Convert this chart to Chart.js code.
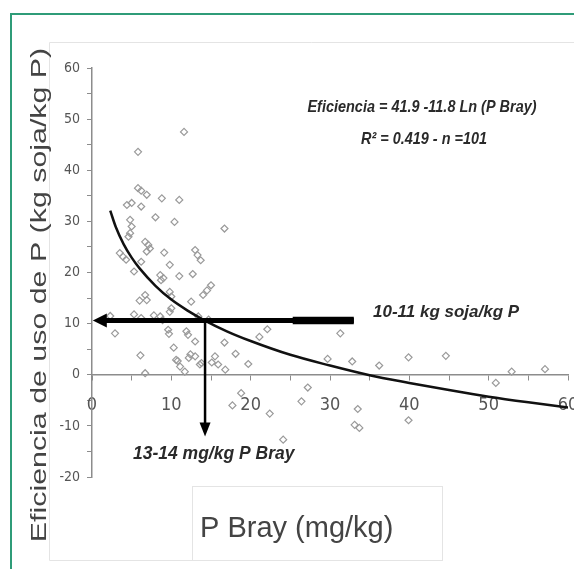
<!DOCTYPE html>
<html>
<head>
<meta charset="utf-8">
<script src="https://cdn.jsdelivr.net/npm/chart.js@4.4.1/dist/chart.umd.min.js"></script>
<style>
  html, body { margin: 0; padding: 0; background: #fff; }
  #wrap { width: 574px; height: 569px; position: relative; }
</style>
</head>
<body>
<div id="wrap"><canvas id="myChart"></canvas></div>
<script>
const xTicks = [0, 10, 20, 30, 40, 50, 60];
const yTicks = [-20, -10, 0, 10, 20, 30, 40, 50, 60];

// P Bray (mg/kg) de cada sitio
const pBray = [
    11.6, 5.8, 5.8, 6.2, 6.9, 4.4, 5.0, 6.2, 8.8, 11.0,
    8.0, 10.4, 16.7, 4.8, 5.0, 4.8, 4.6, 6.7, 7.1, 7.3,
    6.9, 3.5, 3.9, 4.3, 9.1, 13.0, 13.3, 13.7, 6.2, 9.8,
    5.3, 8.6, 9.0, 8.7, 11.0, 12.7, 14.0, 14.5, 15.0, 9.8,
    10.0, 6.7, 6.9, 6.0, 12.5, 10.0, 9.8, 5.3, 2.3, 8.6,
    8.9, 6.2, 2.9, 9.6, 9.7, 11.9, 12.1, 13.0, 16.7, 21.1,
    22.1, 6.1, 6.7, 10.3, 10.8, 11.1, 11.7, 12.2, 12.4, 13.6,
    18.1, 15.5, 15.9, 13.8, 15.1, 16.8, 19.7, 13.0, 18.8, 17.7,
    22.4, 26.4, 27.2, 24.1, 31.3, 29.7, 32.8, 36.2, 39.9, 44.6,
    50.9, 52.9, 57.1, 33.5, 33.1, 33.7, 39.9, 13.4, 10.6, 7.8,
    14.7
];
// eficiencia (kg soja/kg P)
const eficiencia = [
    47.5, 43.6, 36.5, 36.0, 35.2, 33.2, 33.6, 32.9, 34.5, 34.2,
    30.8, 29.9, 28.6, 30.3, 29.0, 27.7, 27.0, 26.0, 25.4, 24.7,
    24.1, 23.8, 23.1, 22.5, 23.9, 24.4, 23.4, 22.4, 22.1, 21.5,
    20.2, 19.5, 18.9, 18.5, 19.3, 19.7, 15.6, 16.5, 17.5, 16.2,
    15.3, 15.6, 14.6, 14.5, 14.3, 13.0, 12.3, 11.8, 11.5, 11.4,
    10.7, 11.1, 8.1, 8.8, 8.0, 8.5, 7.8, 6.5, 6.3, 7.4,
    8.9, 3.8, 0.3, 5.3, 2.7, 1.6, 0.6, 3.3, 4.0, 2.0,
    4.1, 3.6, 2.0, 2.3, 2.4, 1.0, 2.1, 3.6, -3.6, -6.0,
    -7.6, -5.2, -2.5, -12.7, 8.1, 3.1, 2.6, 1.8, 3.4, 3.7,
    -1.6, 0.6, 1.1, -6.7, -9.8, -10.4, -8.9, 11.4, 2.9, 11.6,
    10.8
];

// curva ajustada
const curvaX = [2.3, 3, 4, 5, 6, 8, 10, 12, 14, 17, 20, 25, 30, 35, 40, 45, 50, 55, 60];
const curvaY = [32.1, 28.9, 25.5, 22.9, 20.8, 17.4, 14.7, 12.6, 10.8, 8.5, 6.6, 3.9, 1.8, -0.1, -1.6, -3.0, -4.3, -5.4, -6.4];

// flechas: [x, y] inicio y punta
const flechaH = [[33, 10.6], [0.1, 10.6]];
const flechaV = [[14.25, 10.6], [14.25, -12.1]];

const ecuacion = ['Eficiencia = 41.9 -11.8 Ln (P Bray)', 'R\u00B2 = 0.419 - n =101'];
const notaH = '10-11 kg soja/kg P';
const notaV = '13-14 mg/kg P Bray';

const narrow = '"DejaVu Sans Condensed", sans-serif';
const sans = '"Liberation Sans", Arial, sans-serif';

function texto(c, s, x, y, font, color, align, sx, sy) {
    c.save();
    c.translate(x, y);
    c.scale(sx || 1, sy || 1);
    c.font = font;
    c.fillStyle = color;
    c.textAlign = align;
    c.textBaseline = 'middle';
    c.fillText(s, 0, 0);
    c.restore();
}

const dibujos = {
    id: 'dibujos',
    beforeDraw(chart) {
        const c = chart.ctx;
        c.save();
        c.fillStyle = '#fff';
        c.fillRect(0, 0, chart.width, chart.height);
        c.strokeStyle = '#e4e4e4';
        c.lineWidth = 1;
        c.beginPath();
        c.moveTo(574, 42.5); c.lineTo(49.5, 42.5); c.lineTo(49.5, 560.5); c.lineTo(192, 560.5);
        c.stroke();
        c.strokeRect(192.5, 486.5, 250, 74);
        c.strokeStyle = '#2f9c78';
        c.lineWidth = 2;
        c.beginPath();
        c.moveTo(11, 569); c.lineTo(11, 14); c.lineTo(574, 14);
        c.stroke();
        c.restore();
    },
    afterDatasetsDraw(chart) {
        const c = chart.ctx;
        const xs = chart.scales.x, ys = chart.scales.y;
        const px = v => xs.getPixelForValue(v);
        const py = v => ys.getPixelForValue(v);
        c.save();
        c.fillStyle = '#000';
        c.strokeStyle = '#000';
        // flecha horizontal
        let x0 = px(flechaH[0][0]), x1 = px(flechaH[1][0]), y0 = py(flechaH[0][1]);
        c.lineWidth = 5;
        c.beginPath(); c.moveTo(x0, y0); c.lineTo(x1 + 12, y0); c.stroke();
        c.lineWidth = 7.5;
        c.beginPath(); c.moveTo(x0, y0); c.lineTo(px(25.3), y0); c.stroke();
        c.beginPath(); c.moveTo(x1, y0); c.lineTo(x1 + 14, y0 - 7); c.lineTo(x1 + 14, y0 + 7); c.closePath(); c.fill();
        // flecha vertical
        let vx = px(flechaV[0][0]), vy0 = py(flechaV[0][1]), vy1 = py(flechaV[1][1]);
        c.lineWidth = 2.5;
        c.beginPath(); c.moveTo(vx, vy0); c.lineTo(vx, vy1 - 10); c.stroke();
        c.beginPath(); c.moveTo(vx, vy1); c.lineTo(vx - 5.5, vy1 - 14); c.lineTo(vx + 5.5, vy1 - 14); c.closePath(); c.fill();
        c.restore();

        texto(c, ecuacion[0], 422, 107, 'italic bold 17px ' + sans, '#2a2a2a', 'center', 0.85, 1);
        texto(c, ecuacion[1], 424, 139, 'italic bold 17px ' + sans, '#2a2a2a', 'center', 0.85, 1);
        texto(c, notaH, 373, 312, 'italic bold 17px ' + sans, '#2a2a2a', 'left');
        texto(c, notaV, 133, 454, 'italic bold 17.5px ' + sans, '#2a2a2a', 'left');
    },
    afterDraw(chart) {
        const c = chart.ctx;
        c.save();
        c.translate(40, 295);
        c.rotate(-Math.PI / 2);
        texto(c, 'Eficiencia de uso de P (kg soja/kg P)', 0, 0, '22px ' + sans, '#444', 'center', 1.38, 1);
        c.restore();
        c.save();
        c.font = '29px ' + sans;
        c.fillStyle = '#444';
        c.textAlign = 'left';
        c.textBaseline = 'alphabetic';
        c.fillText('P Bray (mg/kg)', 200, 537);
        c.restore();
    }
};

const ctx = document.getElementById('myChart').getContext('2d');
new Chart(ctx, {
    type: 'scatter',
    data: {
        datasets: [{
            label: 'curva',
            data: curvaX.map((x, i) => ({ x: x, y: curvaY[i] })),
            showLine: true,
            borderColor: '#111',
            borderWidth: 2.5,
            pointRadius: 0,
            tension: 0.4,
            cubicInterpolationMode: 'monotone',
            order: 0
        }, {
            label: 'sitios',
            data: pBray.map((x, i) => ({ x: x, y: eficiencia[i] })),
            pointStyle: 'rectRot',
            pointRadius: 3.5,
            borderColor: '#9a9a9a',
            borderWidth: 1.2,
            backgroundColor: 'rgba(255,255,255,0)',
            order: 1
        }]
    },
    options: {
        responsive: true,
        maintainAspectRatio: false,
        animation: false,
        devicePixelRatio: 1,
        layout: { padding: { left: 0, top: 68, right: 6, bottom: 92 } },
        plugins: { legend: { display: false }, tooltip: { enabled: false } },
        scales: {
            x: {
                type: 'linear',
                position: { y: 0 },
                min: xTicks[0],
                max: xTicks[xTicks.length - 1],
                afterFit: s => { s.height = 0; s.paddingLeft = 0; s.paddingRight = 0; },
                border: { display: true, color: '#8c8c8c', width: 1.5 },
                grid: { drawOnChartArea: false, drawTicks: true, tickLength: 5, color: '#8c8c8c' },
                ticks: {
                    stepSize: 5,
                    autoSkip: false,
                    maxRotation: 0,
                    padding: 15,
                    color: '#555',
                    font: { family: narrow, size: 18 },
                    callback: v => xTicks.includes(v) ? v : ''
                }
            },
            y: {
                type: 'linear',
                min: yTicks[0],
                max: yTicks[yTicks.length - 1],
                afterFit: s => { s.width = 92; },
                border: { display: true, color: '#8c8c8c', width: 1.5 },
                grid: { drawOnChartArea: false, drawTicks: true, tickLength: 5, color: '#8c8c8c' },
                ticks: {
                    stepSize: 5,
                    autoSkip: false,
                    padding: 7,
                    color: '#555',
                    font: { family: narrow, size: 14 },
                    callback: v => yTicks.includes(v) ? v : ''
                }
            }
        }
    },
    plugins: [dibujos]
});
</script>
</body>
</html>
